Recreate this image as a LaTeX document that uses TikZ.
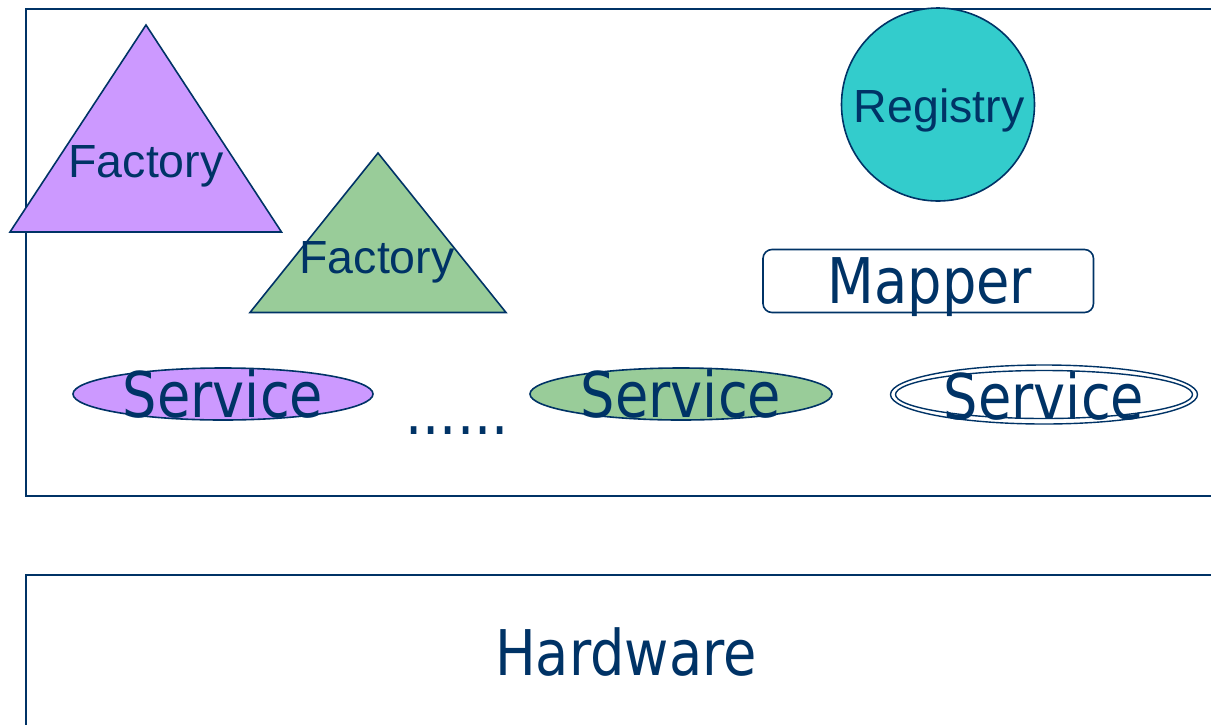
\documentclass[tikz,border=0pt]{standalone}
\usepackage{fontspec}
\setmainfont{Liberation Sans}
\newfontfamily\tah[FakeStretch=0.86]{DejaVu Sans}
\newfontfamily\ari{Liberation Sans}
\usetikzlibrary{shapes.geometric}
\definecolor{navy}{HTML}{003366}
\definecolor{lilac}{HTML}{CC99FF}
\definecolor{sage}{HTML}{99CC99}
\definecolor{teal2}{HTML}{33CCCC}
\tikzset{
  boxline/.style={draw=navy, line width=2pt},
  shapeline/.style={draw=navy, line width=1.6pt},
  bigtxt/.style={text=navy, font=\tah\fontsize{63}{70}\selectfont, inner sep=0pt, anchor=base},
  midtxt/.style={text=navy, font=\ari\fontsize{46.5}{54}\selectfont, inner sep=0pt, anchor=base},
}
\begin{document}
\begin{tikzpicture}[x=1pt,y=-1pt]
\clip (0,0) rectangle (1211,724);
\fill[white] (0,0) rectangle (1211,724);
% outer container
\draw[boxline] (1240,9) -- (26,9) -- (26,496) -- (1240,496);
% hardware box
\draw[boxline] (1240,575) -- (26,575) -- (26,760);
\node[bigtxt] (hw) at (626,675) {Hardware};
% factories
\draw[shapeline, fill=lilac] (146,25) -- (281.5,232) -- (10,232) -- cycle;
\node[midtxt] (f1) at (146,177) {Factory};
\draw[shapeline, fill=sage] (378,153) -- (506,312.5) -- (250,312.5) -- cycle;
\node[midtxt] (f2) at (377,273) {Factory};
% registry
\draw[shapeline, fill=teal2] (938,104.5) circle (96.5);
\node[midtxt] (reg) at (939,122) {Registry};
% mapper
\draw[shapeline, rounded corners=9pt, fill=white] (763,249.5) rectangle (1093.5,312.5);
\node[bigtxt] (map) at (930,303) {Mapper};
% services
\draw[shapeline, fill=lilac] (223,394) ellipse (150 and 26);
\node[bigtxt] (s1) at (223,417) {Service};
\draw[shapeline, fill=sage] (681,394) ellipse (151 and 26);
\node[bigtxt] (s2) at (681,417) {Service};
\draw[draw=navy, line width=1.4pt] (1044,394.5) ellipse (153.5 and 29.5);
\draw[draw=navy, line width=1.4pt] (1044,394.5) ellipse (148.5 and 24);
\node[bigtxt] (s3) at (1044,419) {Service};
% ellipsis dots
\node[bigtxt] (dots) at (457,434) {......};
\end{tikzpicture}
\end{document}
